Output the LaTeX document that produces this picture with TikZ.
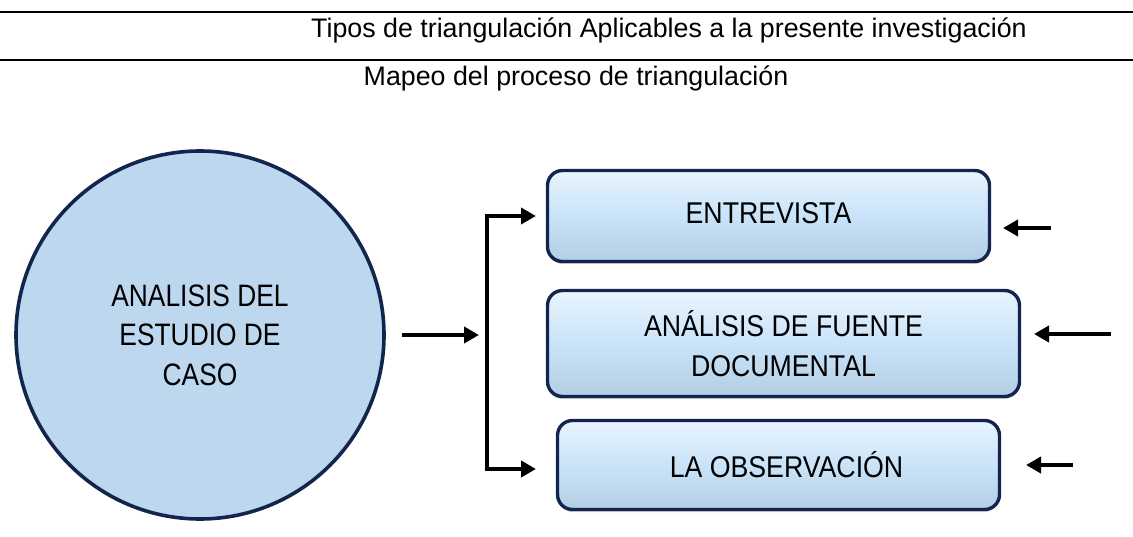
\documentclass[tikz,border=0pt]{standalone}
\usepackage{fontspec}
\setmainfont{Liberation Sans}
\usetikzlibrary{arrows.meta,shadows}
\definecolor{navy}{HTML}{13254F}
\definecolor{cfill}{HTML}{BDD7EE}
\definecolor{bfill}{HTML}{C9E3F9}
\definecolor{btop}{HTML}{E9F4FD}
\definecolor{bbot}{HTML}{B3CDE4}
\tikzset{
  rule/.style={line width=2.4pt},
  arr/.style={line width=4pt,-{Triangle[length=15pt,width=16pt]}},
  boxstyle/.style={draw=navy,line width=3.4pt,rounded corners=15pt,
    top color=btop,bottom color=bbot,middle color=bfill,
    drop shadow={shadow xshift=0pt,shadow yshift=-2.5pt,opacity=0.35},
    font=\fontsize{30}{40}\selectfont,align=center,inner sep=0pt},
  title/.style={font=\fontsize{26.8}{30}\selectfont,inner sep=0pt}
}
\newcommand{\nx}[1]{\scalebox{0.89}[1]{#1}}
\begin{document}
\begin{tikzpicture}[x=1pt,y=-1pt]
\useasboundingbox (0,0) rectangle (1133,537);
\coordinate (l1a) at (0,12); \coordinate (l1b) at (1133,12);
\coordinate (l2a) at (0,60); \coordinate (l2b) at (1133,60);
\draw[rule] (l1a) -- (l1b);
\draw[rule] (l2a) -- (l2b);
\node[title] (t1) at (669,30) {Tipos de triangulación Aplicables a la presente investigación};
\node[title] (t2) at (576,78) {Mapeo del proceso de triangulación};

\node[circle,draw=navy,line width=3.6pt,fill=cfill,minimum size=368pt,inner sep=0pt,
  align=center,font=\fontsize{31}{39.5}\selectfont] (c) at (200,335)
  {\scalebox{0.85}[1]{ANALISIS DEL}\\\scalebox{0.85}[1]{ESTUDIO DE}\\\scalebox{0.85}[1]{CASO}};

\node[boxstyle,minimum width=442pt,minimum height=91pt] (b1) at (768.5,216) {\raisebox{5pt}{\nx{ENTREVISTA}}};
\node[boxstyle,minimum width=472pt,minimum height=106pt] (b2) at (783.5,343.5) {\nx{ANÁLISIS DE FUENTE}\\\nx{DOCUMENTAL}};
\node[boxstyle,minimum width=442pt,minimum height=89pt] (b3) at (778.5,465) {\hspace*{16pt}\nx{LA OBSERVACIÓN}};

\coordinate (a0) at (402,335);
\coordinate (bt) at (487,216);
\coordinate (bb) at (487,469);
\coordinate (e1) at (536,216);
\coordinate (e3) at (536,469);
\draw[arr] (a0) -- (479,335);
\draw[line width=4pt] ([yshift=-2pt]bt) -- ([yshift=2pt]bb);
\draw[arr] ([xshift=-2pt]bt) -- (e1);
\draw[arr] ([xshift=-2pt]bb) -- (e3);

\coordinate (r1) at (1051,228); \coordinate (r2) at (1111,334); \coordinate (r3) at (1073,465);
\draw[arr] (r1) -- (1003,228);
\draw[arr] (r2) -- (1034,334);
\draw[arr] (r3) -- (1026,465);
\end{tikzpicture}
\end{document}
